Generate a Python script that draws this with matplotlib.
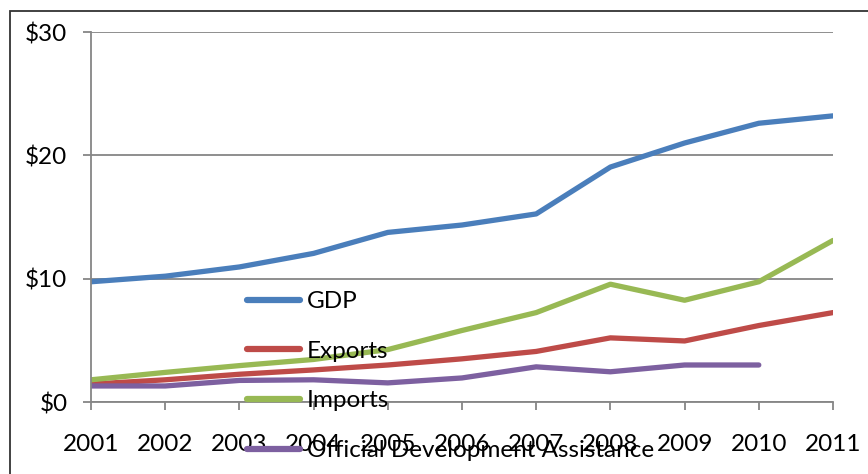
import matplotlib.pyplot as plt
from matplotlib.patches import Rectangle

plt.rcParams['font.family'] = ['Lato', 'DejaVu Sans']

years = [2001, 2002, 2003, 2004, 2005, 2006, 2007, 2008, 2009, 2010, 2011]
gdp = [9.75, 10.2, 10.95, 12.05, 13.75, 14.35, 15.25, 19.05, 21.0, 22.6, 23.2]
exports = [1.45, 1.8, 2.25, 2.6, 3.0, 3.5, 4.1, 5.2, 4.95, 6.2, 7.25]
imports = [1.8, 2.4, 2.95, 3.45, 4.25, 5.8, 7.25, 9.55, 8.25, 9.75, 13.1]
oda_years = [2001, 2002, 2003, 2004, 2005, 2006, 2007, 2008, 2009, 2010]
oda = [1.3, 1.3, 1.75, 1.8, 1.55, 1.95, 2.85, 2.45, 3.0, 3.0]
yticks = [0, 10, 20, 30]
ytick_labels = ['$0', '$10', '$20', '$30']

grey = '#868686'
fs = 17.5

fig = plt.figure(figsize=(8.68, 4.74), dpi=100)
ax = fig.add_axes([91 / 868, 1 - 402 / 474, (833 - 91) / 868, (402 - 32) / 474])

lw = 3.8
ax.plot(years, gdp, color='#4A7EBB', lw=lw, solid_capstyle='round', label='GDP')
ax.plot(years, exports, color='#BE4B48', lw=lw, solid_capstyle='round', label='Exports')
ax.plot(years, imports, color='#98B954', lw=lw, solid_capstyle='round', label='Imports')
ax.plot(oda_years, oda, color='#7D60A0', lw=lw, solid_capstyle='round',
        label='Official Development Assistance')

ax.set_xlim(2001, 2011)
ax.set_ylim(0, 30)
ax.set_xticks(years)
ax.set_xticklabels([str(y) for y in years])
ax.set_yticks(yticks)
ax.set_yticklabels(ytick_labels)
ax.yaxis.grid(True, color=grey, lw=1.3)
ax.set_axisbelow(True)
for s in ['top', 'right']:
    ax.spines[s].set_visible(False)
for s in ['left', 'bottom']:
    ax.spines[s].set_color(grey)
    ax.spines[s].set_linewidth(1.3)
ax.tick_params(axis='x', length=6, width=1.3, color=grey, pad=17, labelsize=fs)
ax.tick_params(axis='y', length=6, width=1.3, color=grey, pad=11, labelsize=fs)

# legend sits inside the plot, its last entry over the year labels
leg = ax.legend(loc='upper left', bbox_to_anchor=(247 / 868, 1 - 291 / 474),
                bbox_transform=fig.transFigure, frameon=False, fontsize=fs,
                handlelength=2.2, handletextpad=0.25, labelspacing=1.18,
                borderpad=0, borderaxespad=0)
for h in leg.get_lines():
    h.set_linewidth(4.5)
    h.set_solid_capstyle('round')

# outer chart-area border (only its left and top edges fall inside the image)
fig.patches.append(Rectangle((10 / 868, -0.2), 1.1, 1 - 11 / 474 + 0.2,
                             transform=fig.transFigure, fill=False,
                             edgecolor='#333333', lw=1.3, clip_on=False))

fig.savefig('out.png', dpi=100)
